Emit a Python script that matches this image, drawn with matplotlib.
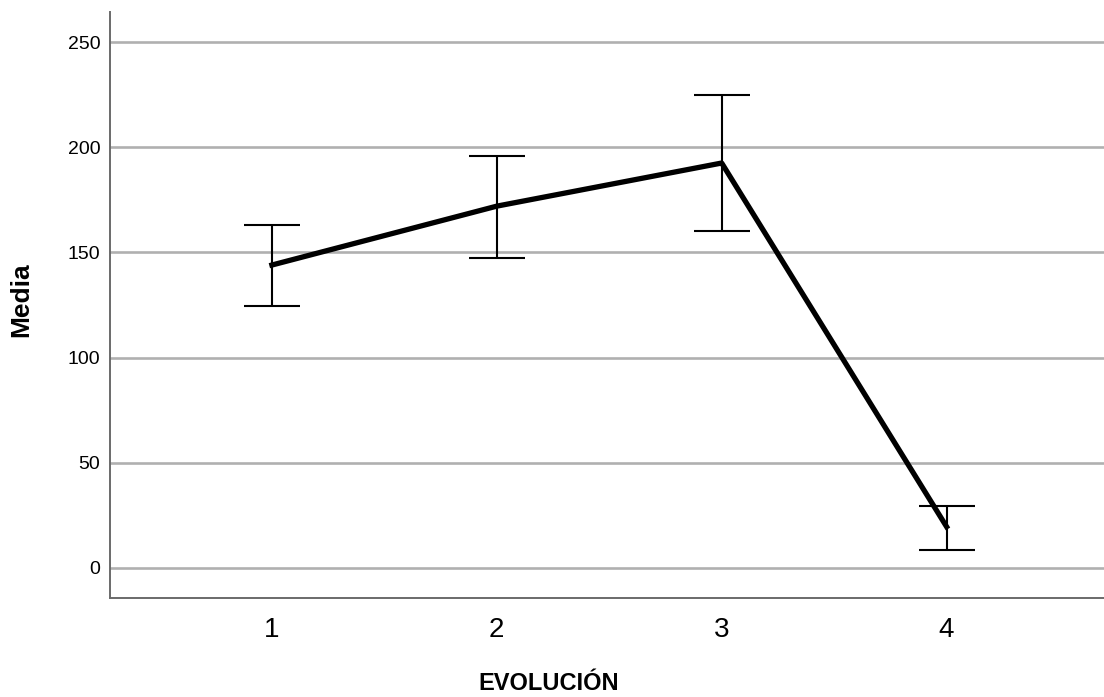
import matplotlib
matplotlib.use("Agg")
import matplotlib.pyplot as plt

plt.rcParams['font.family'] = ['Liberation Sans', 'DejaVu Sans']

# Data: mean per evolution stage with error bar limits
etapas = [1, 2, 3, 4]
media = [144, 172, 192.5, 19.6]
limite_sup = [163, 196, 225, 29.6]
limite_inf = [124.5, 147.5, 160.2, 8.6]

err_low = [m - lo for m, lo in zip(media, limite_inf)]
err_high = [hi - m for m, hi in zip(media, limite_sup)]

fig = plt.figure(figsize=(11.04, 6.97), dpi=100)
ax = fig.add_axes([110 / 1104, 1 - 598 / 697, 1 - 110 / 1104, (598 - 12) / 697])

ax.yaxis.grid(True, color='#b0b0b0', linewidth=1.9)
ax.set_axisbelow(True)

ax.errorbar(etapas, media, yerr=[err_low, err_high], fmt='none',
            ecolor='black', elinewidth=1.5, capsize=20, capthick=1.5, zorder=3)
ax.plot(etapas, media, color='black', linewidth=3.8, zorder=4)

ax.set_xlim(0.28, 4.70)
ax.set_ylim(-14.3, 264.3)
ax.set_xticks(etapas)
ax.set_yticks([0, 50, 100, 150, 200, 250])

ax.tick_params(axis='y', length=0, pad=7, labelsize=14)
ax.tick_params(axis='x', length=0, pad=14, labelsize=20)

for s in ['top', 'right']:
    ax.spines[s].set_visible(False)
for s in ['left', 'bottom']:
    ax.spines[s].set_color('#6a6a6a')
    ax.spines[s].set_linewidth(1.4)

ax.set_ylabel('Media', fontsize=19, fontweight='bold')
ax.set_xlabel('EVOLUCIÓN', fontsize=17, fontweight='bold')
ax.yaxis.set_label_coords(-0.0775, 0.509)
ax.xaxis.set_label_coords(0.4417, -0.127)

fig.savefig('out.png', dpi=100)
